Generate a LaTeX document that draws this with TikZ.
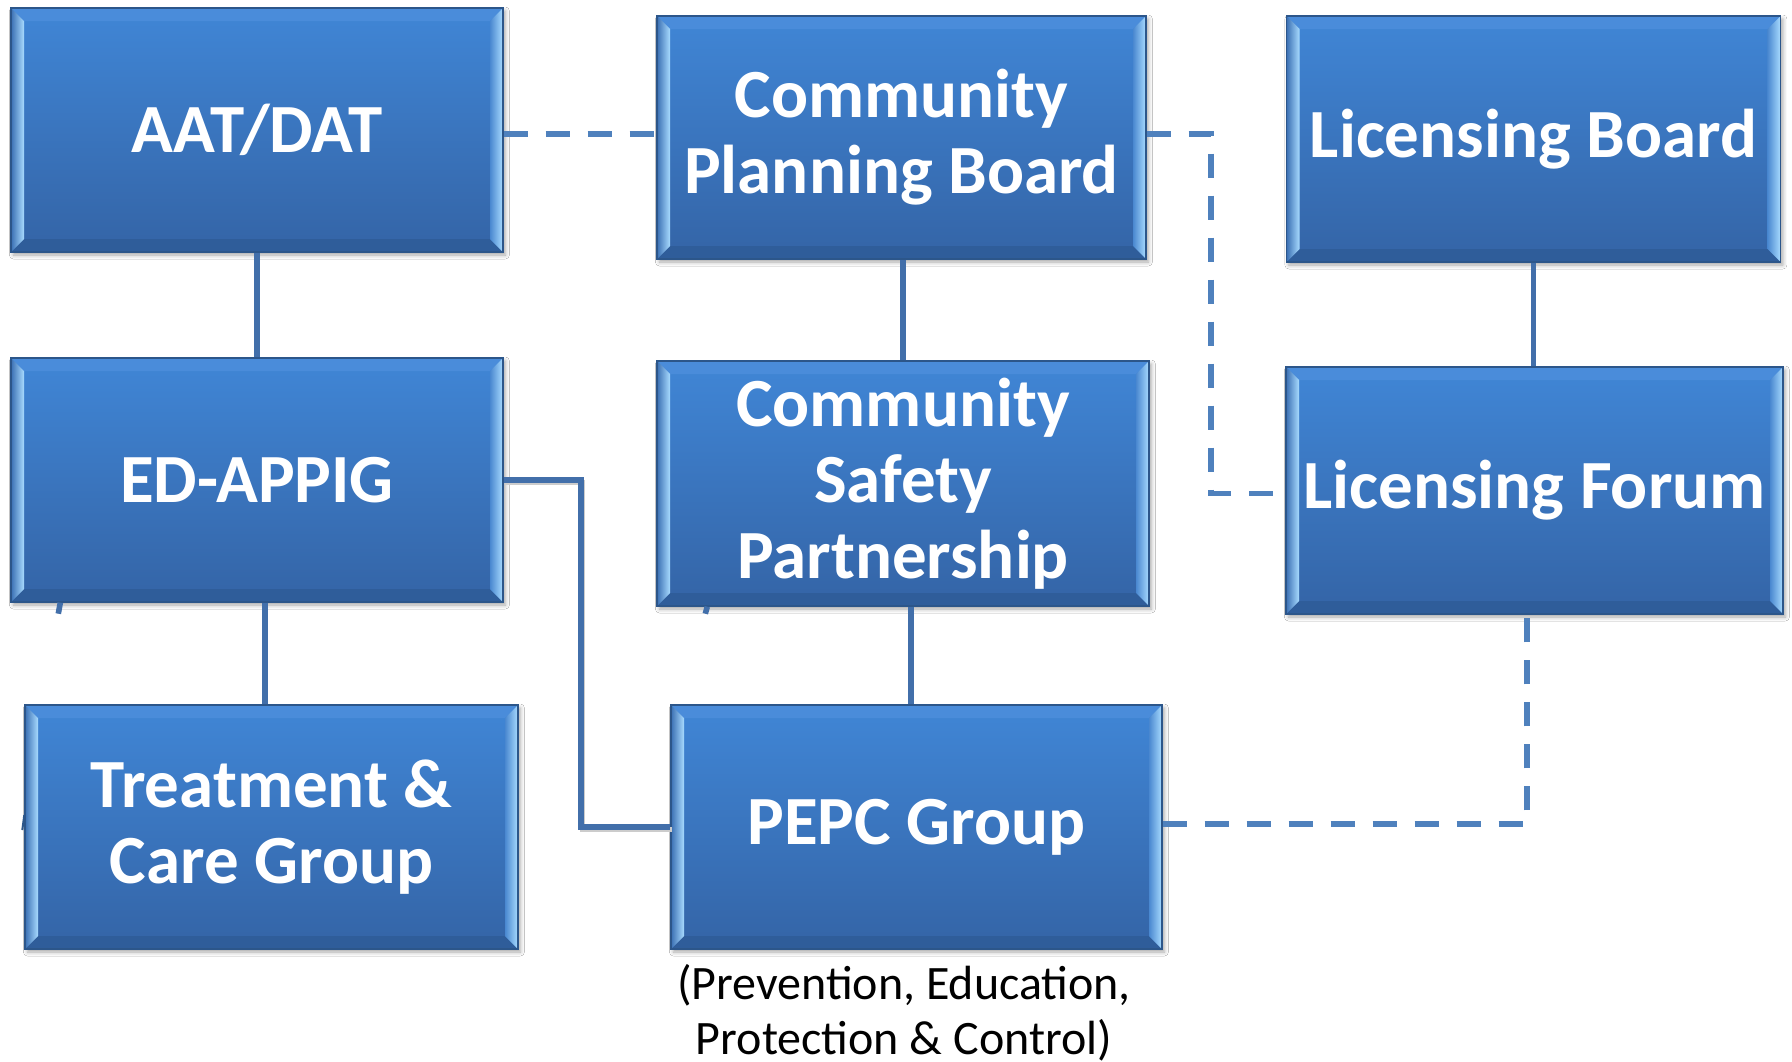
\documentclass[tikz,border=0pt]{standalone}
\usepackage{fontspec}
\setmainfont{Carlito}
\usetikzlibrary{shadows.blur}
\definecolor{facetop}{HTML}{4086D6}
\definecolor{facebot}{HTML}{3464A6}
\definecolor{boxborder}{HTML}{2C568A}
\definecolor{bevlo}{HTML}{3A6FB3}
\definecolor{bevhi}{HTML}{A8DBFF}
\definecolor{bevmid}{HTML}{4A88D0}
\definecolor{bevtop}{HTML}{4A8CDA}
\definecolor{bevbot}{HTML}{2F5D9A}
\definecolor{linecol}{HTML}{426FAA}
\definecolor{dashcol}{HTML}{4F81BD}
\begin{document}
\begin{tikzpicture}[x=0.5pt,y=-0.5pt,
  bevelbox/.style={rectangle, draw=boxborder, line width=0.7pt,
    top color=facetop, bottom color=facebot, text=white,
    font=\fontsize{34.5}{38}\selectfont\bfseries, align=center, inner sep=0pt,
    blur shadow={shadow xshift=1.2pt, shadow yshift=-1.5pt, shadow blur radius=2pt, shadow opacity=35},
    path picture={
      \path (path picture bounding box.north west) coordinate (bvnw)
            (path picture bounding box.north east) coordinate (bvne)
            (path picture bounding box.south west) coordinate (bvsw)
            (path picture bounding box.south east) coordinate (bvse);
      \path ([shift={(6.5pt,-6.5pt)}]bvnw) coordinate (bvinw)
            ([shift={(-6.5pt,-6.5pt)}]bvne) coordinate (bvine)
            ([shift={(6.5pt,6.5pt)}]bvsw) coordinate (bvisw)
            ([shift={(-6.5pt,6.5pt)}]bvse) coordinate (bvise);
      \fill[bevtop] (bvnw) -- (bvne) -- (bvine) -- (bvinw) -- cycle;
      \fill[bevbot] (bvsw) -- (bvse) -- (bvise) -- (bvisw) -- cycle;
      \shade[left color=bevlo, right color=bevhi] (bvnw) -- (bvinw) -- (bvisw) -- (bvsw) -- cycle;
      \shade[left color=bevmid, right color=bevhi] (bvne) -- (bvine) -- (bvise) -- (bvse) -- cycle;
    }},
  solidline/.style={draw=linecol, line width=2.8pt},
  dashline/.style={draw=dashcol, line width=2.6pt, dash pattern=on 12pt off 9pt},
]
\fill[white] (0,0) rectangle (1792,1061);
\useasboundingbox (0,0) rectangle (1792,1061);

\node[bevelbox, minimum width=246pt, minimum height=122pt] (aat) at (257,130) {AAT/DAT};
\node[bevelbox, minimum width=244.5pt, minimum height=121.5pt] (cpb) at (901.5,137.5) {Community\\Planning Board};
\node[bevelbox, minimum width=247pt, minimum height=123pt] (lb) at (1533.5,139) {Licensing Board};
\node[bevelbox, minimum width=246pt, minimum height=122pt] (ed) at (257,480) {ED-APPIG};
\node[bevelbox, minimum width=246pt, minimum height=122.5pt] (csp) at (903,483.5) {Community\\Safety\\Partnership};
\node[bevelbox, minimum width=248.5pt, minimum height=123.5pt] (lf) at (1534.5,490.5) {Licensing Forum};
\node[bevelbox, minimum width=246.5pt, minimum height=122pt] (tc) at (271.5,827) {Treatment \&\\Care Group};
\node[bevelbox, minimum width=245.5pt, minimum height=122pt] (pepc) at (916.5,827) {PEPC Group};

\node[anchor=north, inner sep=0pt, align=center, text=black,
  font=\fontsize{24}{27.5}\selectfont] (cap) at (904,964) {(Prevention, Education,\\Protection \& Control)};

\coordinate (dashy) at (0,134);
\coordinate (elbowa) at (1211,300);
\coordinate (elbowb) at (1527,700);
\coordinate (elbowc) at (581,650);

\draw[solidline] (aat) -- (ed);
\draw[solidline] (csp.north |- cpb.south) -- (csp.north);
\draw[solidline] (lb.south) -- (lb.south |- lf.north);
\draw[solidline] ([xshift=4pt]ed.south) -- ([xshift=4pt]ed.south |- tc.north);
\draw[solidline] ([xshift=4pt]csp.south) -- ([xshift=4pt]csp.south |- pepc.north);
\draw[solidline, preaction={draw=black!20, line width=2.8pt, transform canvas={xshift=0.8pt, yshift=-1.2pt}}]
  (ed.east) -| (elbowc) |- (pepc.west);

\draw[dashline] (aat.east |- dashy) -- (cpb.west |- dashy);
\draw[dashline] (cpb.east |- dashy) -| (elbowa) |- ([yshift=-1.5pt]lf.west);
\draw[dashline] ([yshift=1.5pt]pepc.east) -| (elbowb |- lf.south);

\draw[solidline] ([xshift=25pt]ed.south west) -- ++(-1pt,-5.5pt);
\draw[solidline] ([xshift=25.5pt]csp.south west) -- ++(-1pt,-3.5pt);
\draw[draw=boxborder, line width=1pt] ([yshift=6pt]tc.west) -- ++(-1pt,-7.5pt);
\end{tikzpicture}
\end{document}
